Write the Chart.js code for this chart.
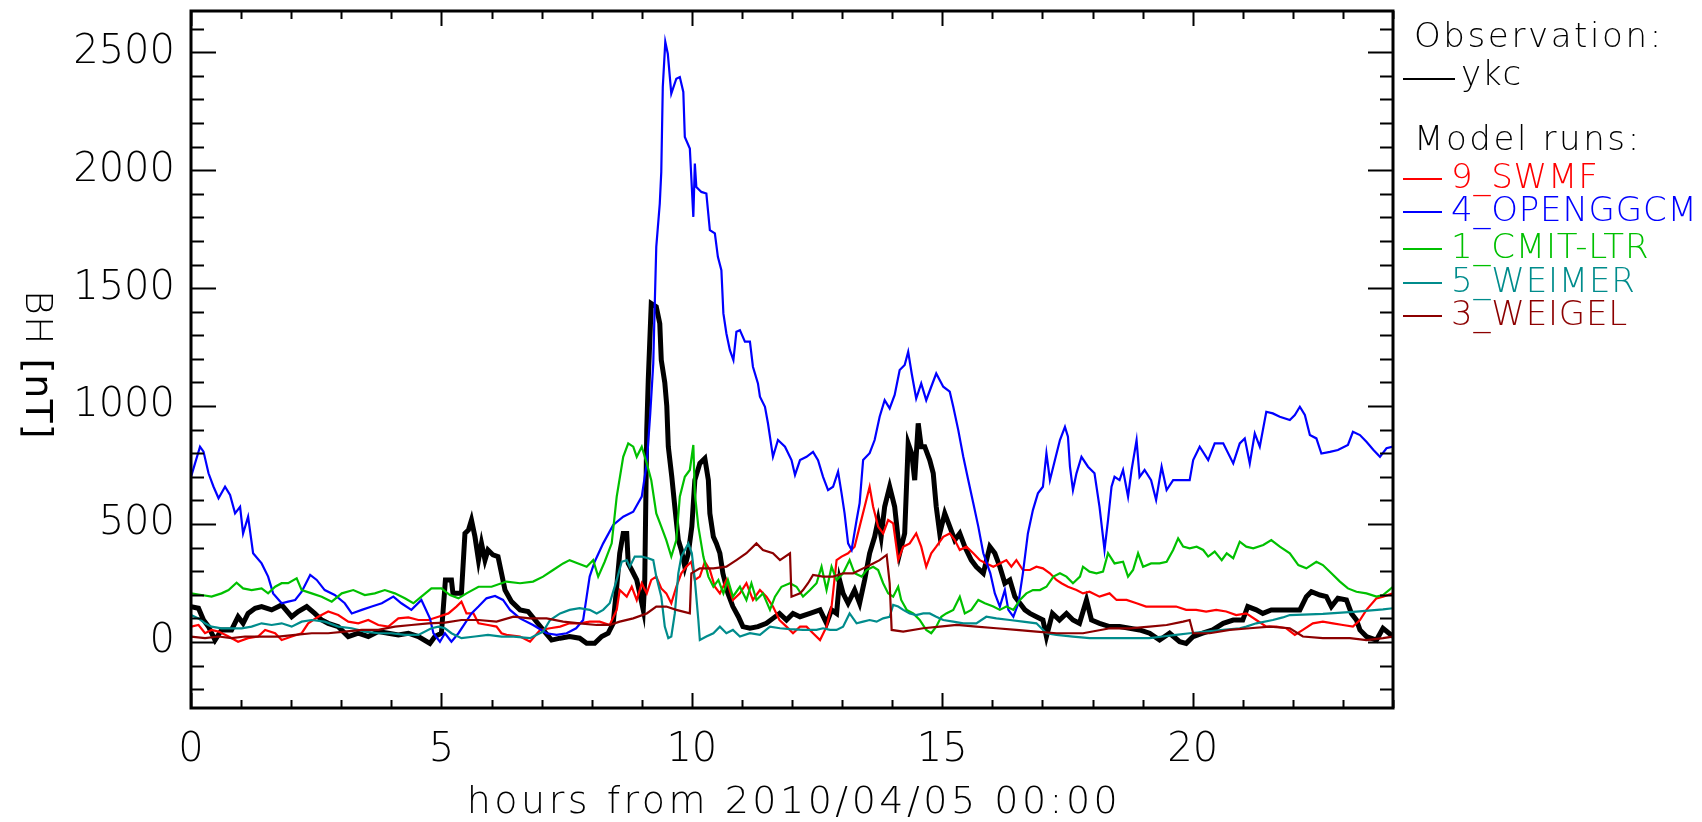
<!DOCTYPE html>
<html>
<head>
<meta charset="utf-8">
<script src="https://cdn.jsdelivr.net/npm/chart.js@4.4.1/dist/chart.umd.min.js"></script>
<style>
  body { margin: 0; background: #fff; }
  #wrap { position: relative; width: 1702px; height: 822px; overflow: hidden; font-family: 'DejaVu Sans', sans-serif; font-weight: 200; }
  #c { position: absolute; left: 0; top: 0; }
  .lg { position: absolute; font-size: 34px; line-height: 34px; white-space: nowrap; letter-spacing: 0.8px; }
  .lg.head { letter-spacing: 2.6px; }
  .sw { position: absolute; height: 2px; }
  #ytitle { position: absolute; writing-mode: vertical-rl; font-size: 38px; line-height: 40px; white-space: nowrap; letter-spacing: 1px; }
  #xtitle { position: absolute; left: 193px; width: 1202px; text-align: center; font-size: 38px; line-height: 38px; white-space: nowrap; letter-spacing: 3.5px; }
</style>
</head>
<body>
<div id="wrap">
  <canvas id="c" width="1702" height="822"></canvas>
  <div id="ytitle" style="left:19px; top:290px;">BH <b>[nT]</b></div>
  <div id="xtitle" style="top:781px;">hours from 2010/04/05 00:00</div>
</div>
<script>
// hours from 2010/04/05 00:00 and BH [nT] per series
const ykcH = [0,0.15,0.25,0.35,0.48,0.61,0.81,0.94,1.04,1.14,1.28,1.41,1.61,1.81,2.01,2.14,2.31,2.47,2.61,2.74,2.94,3.14,3.34,3.54,3.74,3.94,4.14,4.34,4.54,4.77,4.87,5.0,5.08,5.2,5.23,5.4,5.47,5.54,5.6,5.67,5.74,5.8,5.87,5.93,6.03,6.13,6.2,6.27,6.4,6.57,6.73,6.87,7.03,7.2,7.37,7.56,7.76,7.9,8.06,8.2,8.33,8.43,8.5,8.56,8.63,8.7,8.73,8.8,8.9,8.96,9.03,9.06,9.1,9.13,9.19,9.29,9.36,9.39,9.46,9.5,9.53,9.6,9.66,9.73,9.79,9.86,9.93,10.0,10.06,10.16,10.26,10.33,10.36,10.43,10.49,10.56,10.62,10.72,10.82,10.93,11.02,11.16,11.32,11.49,11.62,11.75,11.89,12.02,12.16,12.36,12.56,12.69,12.79,12.89,12.95,13.02,13.12,13.25,13.35,13.45,13.55,13.65,13.72,13.78,13.85,13.95,14.05,14.15,14.25,14.32,14.39,14.45,14.52,14.58,14.65,14.75,14.82,14.88,14.95,15.05,15.15,15.25,15.35,15.45,15.58,15.68,15.82,15.95,16.05,16.15,16.25,16.35,16.45,16.55,16.65,16.75,16.88,17.01,17.08,17.2,17.34,17.48,17.61,17.74,17.88,17.98,18.14,18.34,18.54,18.74,18.94,19.14,19.34,19.54,19.74,19.87,20.01,20.2,20.4,20.61,20.81,21.0,21.1,21.27,21.4,21.57,21.74,21.94,22.14,22.27,22.37,22.54,22.67,22.77,22.9,23.07,23.17,23.27,23.34,23.47,23.67,23.8,24.0];
const ykcV = [150,143,93,65,8,51,51,107,79,121,143,150,136,157,107,129,150,121,93,79,65,23,37,23,44,37,30,37,23,-6,23,37,263,263,206,206,460,475,517,446,347,418,347,390,369,362,291,220,171,136,129,93,51,8,16,23,16,-6,-6,23,37,79,234,376,460,460,333,305,263,206,136,263,898,1110,1435,1421,1350,1195,1100,1000,828,700,573,432,390,319,376,489,686,757,778,686,545,446,418,376,291,206,150,107,65,58,65,79,100,121,93,121,107,121,136,79,136,121,263,206,164,220,164,263,376,446,517,446,573,658,573,376,460,842,799,686,927,828,828,771,715,573,460,545,489,432,460,404,347,319,291,404,376,319,249,263,192,164,136,121,107,93,23,121,93,121,93,79,178,93,79,65,65,58,51,37,8,37,1,-6,23,37,51,79,93,93,150,136,121,136,136,136,136,192,213,199,192,150,185,178,121,93,51,23,8,58,23];

const swmfH = [0,0.15,0.28,0.41,0.55,0.75,0.94,1.14,1.34,1.48,1.68,1.81,2.01,2.21,2.34,2.54,2.74,2.94,3.14,3.34,3.54,3.74,3.94,4.14,4.34,4.54,4.74,4.94,5.14,5.3,5.4,5.5,5.64,5.74,5.93,6.1,6.2,6.3,6.57,6.77,6.97,7.17,7.37,7.56,7.76,7.96,8.16,8.36,8.5,8.56,8.7,8.8,8.9,9.0,9.1,9.19,9.29,9.39,9.49,9.59,9.69,9.79,9.89,9.99,10.06,10.16,10.26,10.36,10.46,10.56,10.69,10.82,10.96,11.09,11.22,11.36,11.49,11.62,11.75,11.89,12.02,12.16,12.29,12.42,12.56,12.69,12.79,12.89,12.99,13.12,13.25,13.35,13.45,13.55,13.62,13.72,13.82,13.92,14.02,14.12,14.22,14.35,14.48,14.58,14.68,14.78,14.88,15.02,15.15,15.25,15.35,15.48,15.62,15.75,15.88,16.02,16.15,16.28,16.38,16.48,16.61,16.75,16.88,17.01,17.15,17.28,17.38,17.51,17.68,17.81,17.94,18.14,18.34,18.48,18.68,18.88,19.07,19.27,19.48,19.67,19.87,20.07,20.27,20.47,20.67,20.87,21.07,21.27,21.47,21.67,21.87,22.04,22.2,22.4,22.6,22.8,23.0,23.2,23.34,23.47,23.67,23.8,24.0];
const swmfV = [65,72,37,51,44,23,1,16,23,51,37,8,23,37,79,107,129,114,86,79,93,72,65,100,104,93,93,107,121,150,171,121,121,79,72,65,37,30,23,1,51,58,65,79,79,86,86,72,136,220,192,234,178,249,206,263,277,227,206,164,234,291,319,340,263,277,340,305,234,206,263,178,206,249,178,220,192,150,93,65,37,65,65,37,8,65,150,347,362,376,404,489,573,658,573,489,460,517,503,347,404,418,460,404,319,376,404,446,460,432,390,404,376,347,333,319,333,347,319,347,305,305,319,312,291,263,249,234,220,206,213,192,206,178,178,164,150,150,150,150,136,136,129,136,129,114,121,93,65,65,58,30,51,79,86,79,72,65,93,136,185,192,206];

const openH = [0,0.18,0.25,0.35,0.45,0.55,0.68,0.78,0.88,0.98,1.04,1.14,1.24,1.41,1.54,1.64,1.81,1.94,2.08,2.21,2.38,2.51,2.67,2.87,3.07,3.21,3.41,3.61,3.81,4.04,4.2,4.4,4.6,4.77,4.84,4.97,5.07,5.2,5.34,5.47,5.6,5.74,5.9,6.07,6.23,6.37,6.57,6.83,7.1,7.3,7.5,7.69,7.83,7.9,7.96,8.06,8.23,8.43,8.63,8.83,9.0,9.1,9.17,9.23,9.26,9.29,9.36,9.39,9.42,9.47,9.52,9.59,9.69,9.76,9.83,9.86,9.96,10.03,10.06,10.09,10.19,10.29,10.36,10.46,10.52,10.59,10.63,10.69,10.76,10.83,10.89,10.96,11.06,11.16,11.22,11.32,11.36,11.46,11.52,11.62,11.72,11.86,11.99,12.06,12.16,12.29,12.42,12.52,12.62,12.72,12.82,12.92,12.99,13.05,13.12,13.19,13.29,13.35,13.42,13.55,13.65,13.75,13.85,13.95,14.05,14.15,14.25,14.32,14.39,14.48,14.58,14.68,14.78,14.88,15.02,15.15,15.22,15.32,15.42,15.52,15.62,15.72,15.82,15.96,16.05,16.15,16.25,16.32,16.42,16.52,16.61,16.71,16.81,16.91,17.01,17.08,17.15,17.25,17.35,17.45,17.51,17.55,17.61,17.68,17.78,17.91,18.04,18.14,18.24,18.31,18.38,18.44,18.54,18.61,18.71,18.78,18.88,18.94,19.04,19.17,19.27,19.38,19.48,19.61,19.77,19.94,20.01,20.14,20.31,20.44,20.61,20.81,20.94,21.04,21.14,21.24,21.34,21.47,21.6,21.74,21.94,22.04,22.14,22.24,22.34,22.47,22.57,22.74,22.9,23.1,23.2,23.34,23.47,23.61,23.74,23.87,24.0];
const openV = [700,828,807,715,658,609,658,623,545,573,460,531,376,333,277,206,164,171,178,213,284,263,220,199,164,121,136,150,164,192,164,136,178,100,37,1,37,1,37,79,121,150,185,195,178,136,100,72,37,30,37,58,93,192,277,340,418,496,531,552,616,757,969,1181,1435,1675,1859,1993,2353,2544,2494,2325,2388,2395,2332,2141,2092,1802,2028,1929,1908,1901,1746,1732,1633,1576,1393,1308,1237,1195,1315,1322,1273,1273,1167,1096,1040,997,927,785,856,828,771,708,771,785,806,771,700,644,658,722,630,545,418,390,517,588,771,800,856,955,1025,990,1047,1153,1174,1230,1138,1032,1096,1025,1082,1138,1082,1061,997,898,785,686,588,489,376,291,206,150,220,136,107,164,291,460,559,630,658,800,686,771,856,912,870,743,644,715,785,743,715,573,390,517,658,700,686,729,616,729,856,700,729,686,602,743,644,686,686,686,771,828,771,842,842,757,842,863,757,884,828,976,969,955,941,962,997,962,877,863,799,806,814,835,891,877,849,814,785,821,828];

const cmitH = [0,0.21,0.41,0.61,0.75,0.91,1.04,1.21,1.41,1.54,1.68,1.81,1.94,2.11,2.21,2.41,2.61,2.81,3.01,3.24,3.47,3.67,3.87,4.07,4.27,4.44,4.6,4.8,5.0,5.17,5.34,5.5,5.74,6.0,6.2,6.3,6.57,6.83,7.03,7.23,7.43,7.56,7.73,7.9,8.03,8.13,8.26,8.4,8.5,8.63,8.73,8.83,8.9,9.0,9.1,9.19,9.29,9.39,9.49,9.59,9.69,9.76,9.86,9.96,10.03,10.06,10.13,10.23,10.33,10.43,10.53,10.63,10.72,10.82,10.96,11.09,11.19,11.29,11.42,11.56,11.66,11.79,11.96,12.09,12.22,12.36,12.49,12.59,12.69,12.79,12.89,13.02,13.15,13.25,13.39,13.49,13.62,13.72,13.82,13.92,14.02,14.12,14.18,14.29,14.42,14.55,14.68,14.78,14.88,14.98,15.08,15.22,15.35,15.45,15.58,15.72,15.85,16.02,16.15,16.28,16.42,16.55,16.68,16.81,16.95,17.08,17.22,17.35,17.48,17.61,17.75,17.81,17.94,18.08,18.21,18.31,18.44,18.61,18.71,18.81,18.91,19.01,19.17,19.34,19.48,19.61,19.71,19.81,19.94,20.08,20.21,20.31,20.44,20.58,20.68,20.81,20.94,21.07,21.21,21.41,21.57,21.74,21.94,22.11,22.27,22.47,22.6,22.77,22.94,23.1,23.27,23.47,23.67,23.8,24.0];
const cmitV = [206,199,192,206,220,251,227,220,227,206,234,249,249,270,220,206,192,171,206,220,199,206,220,206,185,164,192,227,227,199,185,206,234,234,249,256,249,256,277,305,333,347,333,319,347,277,340,418,616,785,842,828,785,828,757,686,545,489,432,362,432,616,700,729,835,630,489,362,277,234,263,206,263,192,234,178,249,178,206,136,192,234,249,234,192,220,249,319,220,319,263,291,347,291,277,305,319,305,249,206,192,234,178,136,121,93,51,37,65,107,121,136,192,121,136,178,164,150,136,150,136,178,206,220,220,234,277,291,277,249,277,319,298,291,298,376,333,340,277,305,376,319,333,333,340,390,439,404,397,404,390,362,383,347,376,355,425,404,397,411,432,404,376,326,312,340,326,291,256,227,213,206,192,199,234];

const weimerH = [0,0.15,0.28,0.41,0.61,0.81,1.01,1.21,1.41,1.61,1.81,2.01,2.21,2.41,2.67,2.94,3.21,3.47,3.74,4.0,4.27,4.54,4.8,4.94,5.07,5.2,5.4,5.67,5.93,6.2,6.44,6.77,7.03,7.17,7.37,7.56,7.76,7.96,8.1,8.23,8.36,8.5,8.6,8.7,8.76,8.86,9.0,9.13,9.23,9.29,9.39,9.46,9.53,9.59,9.66,9.73,9.79,9.86,9.93,10.0,10.06,10.13,10.16,10.29,10.43,10.56,10.69,10.82,10.96,11.16,11.36,11.56,11.76,11.96,12.22,12.49,12.62,12.76,12.89,13.02,13.15,13.29,13.42,13.55,13.69,13.82,13.95,14.02,14.12,14.22,14.35,14.48,14.62,14.75,14.88,15.02,15.22,15.42,15.68,15.88,16.08,16.35,16.61,16.88,17.08,17.28,17.61,17.94,18.61,19.14,19.4,19.67,19.94,20.27,20.61,20.94,21.07,21.27,21.6,21.8,21.94,22.6,23.27,23.8,24.0];
const weimerV = [114,100,79,65,58,58,58,65,79,72,79,65,86,93,86,65,58,44,37,37,30,30,58,65,58,37,16,23,30,23,23,16,44,93,121,136,143,136,121,136,164,263,340,347,319,362,362,355,347,277,192,65,16,23,121,291,362,390,418,376,263,93,8,23,37,65,37,51,23,37,30,65,58,54,51,51,58,51,51,65,121,79,86,93,86,100,107,157,150,136,121,114,121,121,107,93,86,79,79,107,100,93,86,79,37,30,23,16,16,16,23,30,37,44,51,58,65,79,93,104,114,119,129,138,143];

const weigelH = [0,0.28,0.55,0.81,1.08,1.41,1.74,2.08,2.41,2.74,3.07,3.41,3.74,4.07,4.4,4.74,5.07,5.4,5.74,6.1,6.44,6.77,7.1,7.43,7.76,8.1,8.36,8.56,8.83,9.1,9.29,9.49,9.69,9.96,9.99,10.16,10.43,10.69,10.89,11.09,11.29,11.42,11.62,11.76,11.96,11.99,12.16,12.22,12.32,12.42,12.62,12.82,13.02,13.22,13.42,13.62,13.75,13.89,13.95,13.99,14.22,14.62,14.95,15.29,15.68,16.08,16.48,16.88,17.28,17.81,18.35,18.74,19.14,19.48,19.81,19.94,20.01,20.34,20.74,21.14,21.54,21.94,22.2,22.6,23.14,23.47,23.8,24.0];
const weigelV = [23,16,23,16,23,23,23,30,37,37,44,51,51,65,72,79,82,93,93,86,107,100,100,86,79,72,72,86,100,121,150,150,136,121,291,312,312,319,347,376,418,390,376,347,376,192,206,220,249,284,277,277,291,291,312,333,347,369,249,51,44,58,65,72,65,58,51,44,37,37,58,58,65,72,86,93,37,37,51,58,65,58,23,16,16,8,16,23];

const yTickLabels = [0, 500, 1000, 1500, 2000, 2500];
const xTickLabels = [0, 5, 10, 15, 20];

const series = [
  { label: 'ykc', h: ykcH, v: ykcV, color: '#000000', width: 5, order: 6, group: 'obs', swatch: 52 },
  { label: '9_SWMF', h: swmfH, v: swmfV, color: '#ff0000', width: 2.2, order: 5, group: 'model', swatch: 39 },
  { label: '4_OPENGGCM', h: openH, v: openV, color: '#0000ff', width: 2.2, order: 4, group: 'model', swatch: 39 },
  { label: '1_CMIT-LTR', h: cmitH, v: cmitV, color: '#00c000', width: 2.2, order: 3, group: 'model', swatch: 39 },
  { label: '5_WEIMER', h: weimerH, v: weimerV, color: '#008c8c', width: 2.2, order: 2, group: 'model', swatch: 39 },
  { label: '3_WEIGEL', h: weigelH, v: weigelV, color: '#8c0000', width: 2.2, order: 1, group: 'model', swatch: 39 }
];

const FONT = { family: "'DejaVu Sans', sans-serif", size: 40, weight: 200 };

// box round the plot, with inward ticks on all four sides
const idlFrame = {
  id: 'idlFrame',
  afterDraw(chart) {
    const { ctx, chartArea: a, scales: { x, y } } = chart;
    ctx.save();
    ctx.strokeStyle = '#000';
    ctx.lineWidth = 2;
    ctx.beginPath();
    for (let h = 0; h <= 24; h++) {
      const px = Math.round(x.getPixelForValue(h)) + 0.5;
      const len = h % 5 === 0 ? 15 : 8;
      ctx.moveTo(px, a.bottom); ctx.lineTo(px, a.bottom - len);
      ctx.moveTo(px, a.top); ctx.lineTo(px, a.top + len);
    }
    for (let v = -200; v <= 2600; v += 100) {
      const py = Math.round(y.getPixelForValue(v)) + 0.5;
      const len = v % 500 === 0 ? 25 : 13;
      ctx.moveTo(a.left, py); ctx.lineTo(a.left + len, py);
      ctx.moveTo(a.right, py); ctx.lineTo(a.right - len, py);
    }
    ctx.stroke();
    ctx.lineWidth = 3;
    ctx.strokeRect(a.left, a.top, a.right - a.left, a.bottom - a.top);
    ctx.restore();
  }
};

new Chart(document.getElementById('c'), {
  type: 'scatter',
  data: {
    datasets: series.map(s => ({
      label: s.label,
      data: s.h.map((h, i) => ({ x: h, y: s.v[i] })),
      showLine: true,
      borderColor: s.color,
      backgroundColor: s.color,
      borderWidth: s.width,
      pointRadius: 0,
      tension: 0,
      order: s.order
    }))
  },
  options: {
    responsive: false,
    devicePixelRatio: 1,
    animation: false,
    layout: { padding: { top: 11, right: 309, left: 0, bottom: 0 } },
    plugins: { legend: { display: false }, tooltip: { enabled: false } },
    scales: {
      x: {
        type: 'linear', min: 0, max: 24,
        afterBuildTicks: s => { s.ticks = xTickLabels.map(v => ({ value: v })); },
        ticks: { padding: 19, color: '#000', font: FONT, maxRotation: 0, callback: v => String(v) },
        grid: { display: false, drawTicks: false },
        border: { display: false },
        afterFit: s => { s.height = 114; s.paddingLeft = 0; s.paddingRight = 0; }
      },
      y: {
        type: 'linear', min: -280, max: 2675,
        afterBuildTicks: s => { s.ticks = yTickLabels.map(v => ({ value: v })); },
        ticks: { padding: 16, color: '#000', font: FONT, callback: v => String(v) },
        grid: { display: false, drawTicks: false },
        border: { display: false },
        afterFit: s => { s.width = 191; s.paddingTop = 0; s.paddingBottom = 0; }
      }
    }
  },
  plugins: [idlFrame]
});

// legend on the right, as text
const wrap = document.getElementById('wrap');
function addText(txt, left, top, color, cls) {
  const d = document.createElement('div');
  d.className = 'lg' + (cls ? ' ' + cls : '');
  d.style.left = left + 'px';
  d.style.top = top + 'px';
  d.style.color = color;
  d.textContent = txt;
  wrap.appendChild(d);
}
function addSwatch(left, top, w, color) {
  const d = document.createElement('div');
  d.className = 'sw';
  d.style.left = left + 'px';
  d.style.top = top + 'px';
  d.style.width = w + 'px';
  d.style.background = color;
  wrap.appendChild(d);
}
addText('Observation:', 1414, 18, '#000', 'head');
addSwatch(1403, 78, 52, '#000');
addText('ykc', 1461, 56, '#000');
addText('Model runs:', 1414, 121, '#000', 'head');
const rowTops = [159, 192, 229, 263, 296];
series.filter(s => s.group === 'model').forEach((s, i) => {
  addSwatch(1403, rowTops[i] + 19, s.swatch, s.color);
  addText(s.label, 1451, rowTops[i], s.color);
});
</script>
</body>
</html>
